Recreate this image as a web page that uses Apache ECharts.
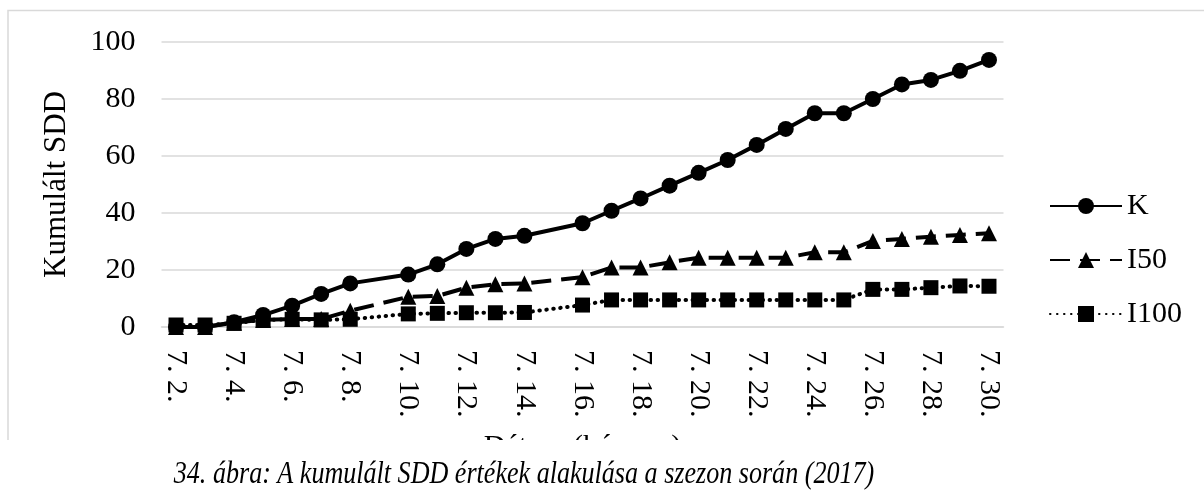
<!DOCTYPE html>
<html>
<head>
<meta charset="utf-8">
<script src="https://cdn.jsdelivr.net/npm/echarts@6/dist/echarts.min.js"></script>
<style>html,body{margin:0;padding:0;background:#fff}#c{width:1204px;height:490px}</style>
</head>
<body>
<div id="c"></div>
<script>
var categories = ['7. 2.','7. 3.','7. 4.','7. 5.','7. 6.','7. 7.','7. 8.','7. 9.','7. 10.','7. 11.','7. 12.','7. 13.','7. 14.','7. 15.','7. 16.','7. 17.','7. 18.','7. 19.','7. 20.','7. 21.','7. 22.','7. 23.','7. 24.','7. 25.','7. 26.','7. 27.','7. 28.','7. 29.','7. 30.'];
var seriesK    = [0, 0, 1.7, 4.2, 7.5, 11.6, 15.3, null, 18.4, 22.0, 27.4, 30.9, 32.0, null, 36.4, 40.8, 45.1, 49.6, 54.1, 58.6, 63.9, 69.5, 75.0, 75.0, 80.0, 85.1, 86.7, 89.9, 93.7];
var seriesI50  = [0, 0, 1.5, 2.5, 2.8, 2.8, 5.7, null, 10.6, 10.9, 13.8, 15.0, 15.3, null, 17.5, 20.9, 20.9, 22.7, 24.3, 24.3, 24.3, 24.3, 26.2, 26.2, 30.2, 30.9, 31.7, 32.3, 32.9];
var seriesI100 = [0.7, 0.7, 1.3, 2.5, 2.7, 2.5, 2.7, null, 4.6, 4.8, 5.0, 5.0, 5.1, null, 7.7, 9.5, 9.5, 9.5, 9.5, 9.5, 9.5, 9.5, 9.5, 9.5, 13.2, 13.2, 13.8, 14.4, 14.3];
var yMin = 0, yMax = 100, yStep = 20;
var names = ['K', 'I50', 'I100'];
var xTitle = 'Dátum (hó. nap)';
var yTitle = 'Kumulált SDD';
var caption = '34. ábra: A kumulált SDD értékek alakulása a szezon során (2017)';

var FONT = '"Liberation Serif", "Times New Roman", serif';
var chart = echarts.init(document.getElementById('c'), null, {renderer: 'canvas'});
function mk(name, data, symbol, size, ltype, cap) {
  return {
    name: name, type: 'line', data: data, connectNulls: true,
    symbol: symbol, symbolSize: size, showSymbol: true,
    itemStyle: {color: '#000', borderWidth: 0},
    lineStyle: {color: '#000', width: 4, type: ltype, cap: cap || 'butt'},
    emphasis: {disabled: true}, animation: false
  };
}
chart.setOption({
  animation: false,
  backgroundColor: '#fff',
  textStyle: {fontFamily: FONT},
  grid: {left: 161.5, right: 200.5, top: 42, bottom: 163, containLabel: false},
  legend: {
    orient: 'vertical', left: 1044, top: 186,
    itemWidth: 72, itemHeight: 20, itemGap: 24,
    textStyle: {fontFamily: FONT, fontSize: 30, color: '#000', lineHeight: 28},
    data: names
  },
  xAxis: {
    type: 'category', data: categories, boundaryGap: true,
    name: xTitle, nameLocation: 'middle', nameGap: 105,
    nameTextStyle: {fontFamily: FONT, fontSize: 30, color: '#000'},
    axisLine: {show: true, lineStyle: {color: '#d9d9d9', width: 1.5}},
    axisTick: {show: false},
    axisLabel: {interval: 1, rotate: -90, margin: 23, fontFamily: FONT, fontSize: 30, color: '#000'},
    splitLine: {show: false}
  },
  yAxis: {
    type: 'value', min: yMin, max: yMax, interval: yStep,
    name: yTitle, nameLocation: 'middle', nameGap: 89, nameRotate: 90,
    nameTextStyle: {fontFamily: FONT, fontSize: 31, color: '#000'},
    axisLine: {show: false}, axisTick: {show: false},
    axisLabel: {margin: 26, fontFamily: FONT, fontSize: 30, color: '#000'},
    splitLine: {show: true, lineStyle: {color: '#d9d9d9', width: 1.5}}
  },
  series: [
    mk(names[0], seriesK, 'circle', 16, 'solid'),
    mk(names[1], seriesI50, 'triangle', 16, [20, 10]),
    mk(names[2], seriesI100, 'rect', 15, [0.5, 6.5], 'round')
  ],
  graphic: [
    {type: 'rect', z: 100, silent: true, shape: {x: 8, y: 10.5, width: 1400, height: 600}, style: {fill: 'none', stroke: '#d9d9d9', lineWidth: 1.5}},
    {type: 'rect', z: 101, silent: true, shape: {x: 0, y: 440, width: 1204, height: 50}, style: {fill: '#fff'}},
    {type: 'text', z: 102, silent: true, x: 524, y: 475, scaleX: 0.815,
      style: {text: caption, fontFamily: FONT, fontStyle: 'italic', fontSize: 32, fill: '#000', align: 'center', verticalAlign: 'middle'}}
  ]
});
</script>
</body>
</html>
